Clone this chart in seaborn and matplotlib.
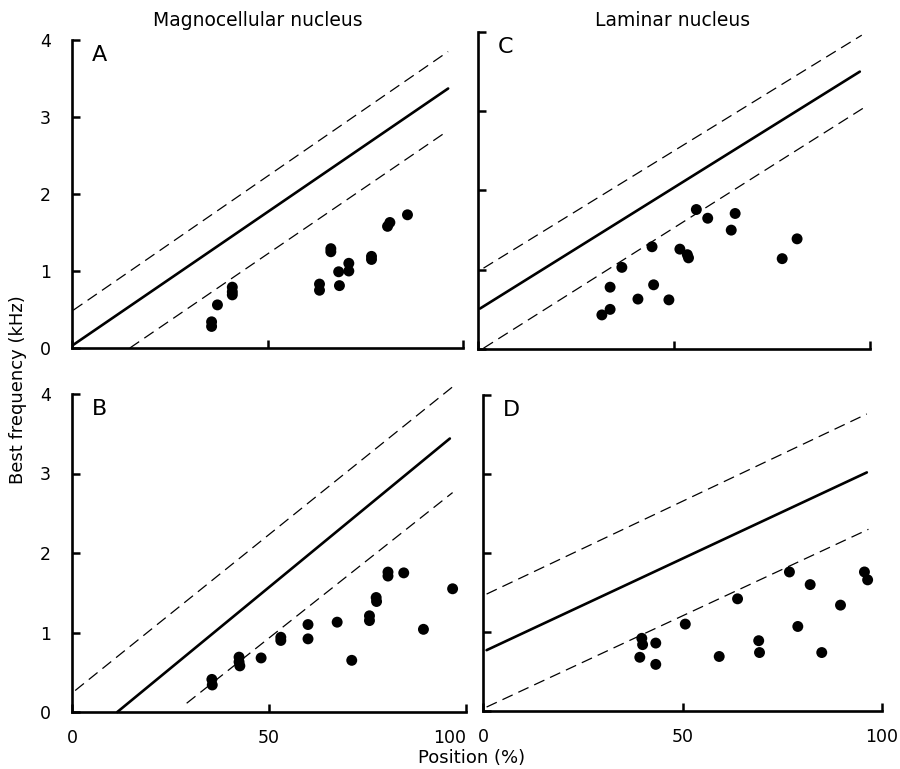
import matplotlib
matplotlib.use("Agg")
import matplotlib.pyplot as plt
import seaborn as sns

# ---------------------------------------------------------------
# Datos (posicion %, mejor frecuencia kHz)
# ---------------------------------------------------------------
# A: nucleo magnocelular
a_pos = [35.7, 35.7, 37.2, 41.0, 41.0, 41.0, 63.3, 63.3, 66.2, 66.2,
         68.2, 68.4, 70.8, 70.8, 76.6, 76.6, 80.7, 81.3, 85.8]
a_bf = [0.34, 0.28, 0.56, 0.79, 0.73, 0.69, 0.83, 0.75, 1.29, 1.25,
        0.99, 0.81, 1.10, 1.00, 1.19, 1.15, 1.58, 1.63, 1.73]
a_fit_x, a_fit_y = [0.3, 96.2], [0.04, 3.37]
a_up_x, a_up_y = [0.3, 96.2], [0.49, 3.85]
a_lo_x, a_lo_y = [14.8, 95.8], [0.0, 2.81]

# B: nucleo magnocelular
b_pos = [35.5, 35.6, 42.4, 42.4, 42.6, 48.0, 53.0, 53.0, 59.9, 59.9,
         67.3, 71.0, 75.5, 75.5, 77.2, 77.3, 80.2, 80.2, 84.2, 89.2, 96.6]
b_bf = [0.41, 0.34, 0.69, 0.63, 0.58, 0.68, 0.94, 0.90, 1.10, 0.92,
        1.13, 0.65, 1.21, 1.15, 1.44, 1.39, 1.76, 1.71, 1.75, 1.04, 1.55]
b_fit_x, b_fit_y = [11.5, 95.9], [0.0, 3.44]
b_up_x, b_up_y = [0.8, 96.6], [0.27, 4.09]
b_lo_x, b_lo_y = [29.1, 96.6], [0.11, 2.76]

# C: nucleo laminar
c_pos = [31.6, 33.7, 33.7, 36.7, 40.8, 44.4, 44.8, 48.7, 51.5, 53.4,
         53.7, 55.7, 58.6, 64.6, 65.6, 77.6, 81.4]
c_bf = [0.43, 0.50, 0.78, 1.03, 0.63, 1.29, 0.81, 0.62, 1.26, 1.19,
        1.15, 1.76, 1.65, 1.50, 1.71, 1.14, 1.39]
c_fit_x, c_fit_y = [0.5, 97.4], [0.51, 3.50]
c_up_x, c_up_y = [1.4, 97.9], [1.02, 3.96]
c_lo_x, c_lo_y = [1.4, 98.3], [0.01, 3.04]

# D: nucleo laminar
d_pos = [39.8, 40.0, 39.3, 43.3, 43.3, 50.7, 59.2, 63.8, 69.1, 69.3,
         76.8, 78.9, 82.0, 84.9, 89.6, 95.6, 96.4]
d_bf = [0.92, 0.84, 0.68, 0.86, 0.59, 1.10, 0.69, 1.42, 0.89, 0.74,
        1.76, 1.07, 1.60, 0.74, 1.34, 1.76, 1.66]
d_fit_x, d_fit_y = [0.9, 96.2], [0.77, 3.02]
d_up_x, d_up_y = [0.9, 96.2], [1.48, 3.76]
d_lo_x, d_lo_y = [0.9, 96.6], [0.05, 2.30]

y_ticks = [0, 1, 2, 3, 4]
x_ticks = [0, 50, 100]

W, H = 900, 769


def rect(l, r, t, b):
    """Convierte pixeles a fracciones de figura."""
    return [l / W, 1 - b / H, (r - l) / W, (b - t) / H]


def dibujar_panel(ax, pos, bf, fit, up, lo, letra, ylabels, xlabels,
                  ultimo_derecha=False):
    for (xs, ys) in (up, lo):
        sns.lineplot(x=xs, y=ys, ax=ax, color="black", lw=0.9,
                     linestyle=(0, (9, 5)), estimator=None, sort=False,
                     clip_on=False)
    sns.lineplot(x=fit[0], y=fit[1], ax=ax, color="black", lw=1.9,
                 estimator=None, sort=False, clip_on=False)
    sns.scatterplot(x=pos, y=bf, ax=ax, color="black", s=62,
                    edgecolor="none", clip_on=False, zorder=3)

    ax.set_xlim(0, 100)
    ax.set_ylim(0, 4)
    ax.set_xticks(x_ticks)
    ax.set_yticks(y_ticks)
    ax.tick_params(direction="in", length=6, width=1.8, labelsize=12.5,
                   colors="black", labelleft=ylabels, labelbottom=xlabels)
    ax.tick_params(axis="y", pad=15)
    ax.tick_params(axis="x", pad=12)
    if xlabels and ultimo_derecha:
        ax.get_xticklabels()[-1].set_ha("right")
    for s in ("left", "bottom"):
        ax.spines[s].set_linewidth(1.9)
        ax.spines[s].set_color("black")
    sns.despine(ax=ax)
    ax.set_xlabel("")
    ax.set_ylabel("")
    ax.text(0.05, 0.92, letra, transform=ax.transAxes, fontsize=16,
            ha="left", va="bottom", color="black")


sns.set_style("ticks")
plt.rcParams["font.family"] = ["DejaVu Sans"]
plt.rcParams["text.color"] = "black"

fig = plt.figure(figsize=(9, 7.69), dpi=100)
ax_a = fig.add_axes(rect(72, 463, 40, 348))
ax_c = fig.add_axes(rect(478, 870, 32, 349))
ax_b = fig.add_axes(rect(72, 466, 394, 712))
ax_d = fig.add_axes(rect(483, 882, 395, 711))

dibujar_panel(ax_a, a_pos, a_bf, (a_fit_x, a_fit_y), (a_up_x, a_up_y),
              (a_lo_x, a_lo_y), "A", True, False)
dibujar_panel(ax_c, c_pos, c_bf, (c_fit_x, c_fit_y), (c_up_x, c_up_y),
              (c_lo_x, c_lo_y), "C", False, False)
dibujar_panel(ax_b, b_pos, b_bf, (b_fit_x, b_fit_y), (b_up_x, b_up_y),
              (b_lo_x, b_lo_y), "B", True, True, ultimo_derecha=True)
dibujar_panel(ax_d, d_pos, d_bf, (d_fit_x, d_fit_y), (d_up_x, d_up_y),
              (d_lo_x, d_lo_y), "D", False, True)

fig.text(258 / W, 1 - 20 / H, "Magnocellular nucleus", fontsize=13.5,
         ha="center", va="center")
fig.text(673 / W, 1 - 20 / H, "Laminar nucleus", fontsize=13.5,
         ha="center", va="center")
fig.text(18 / W, 1 - 390 / H, "Best frequency (kHz)", fontsize=13,
         rotation=90, ha="center", va="center")
fig.text(472 / W, 1 - 758 / H, "Position (%)", fontsize=13,
         ha="center", va="center")

fig.savefig("out.png", dpi=100)
